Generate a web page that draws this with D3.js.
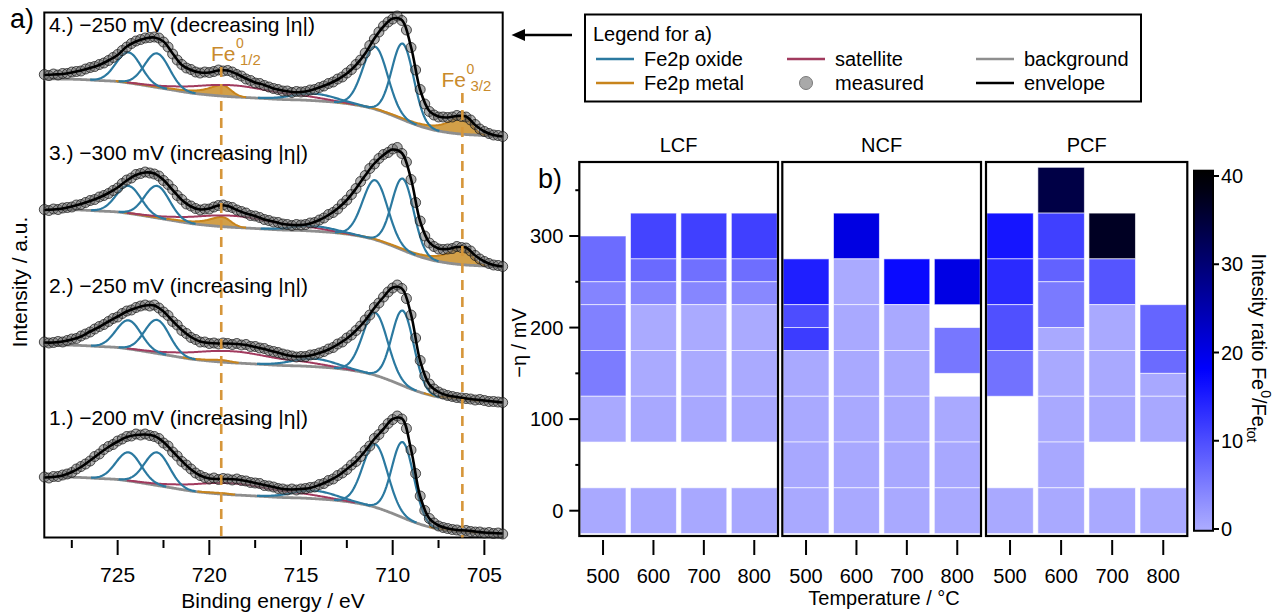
<!DOCTYPE html>
<html>
<head>
<meta charset="utf-8">
<script src="https://cdn.jsdelivr.net/npm/d3@7"></script>
<style>
  html, body { margin: 0; padding: 0; background: #fff; }
  svg { display: block; font-family: "Liberation Sans", Arial, Helvetica, sans-serif; }
</style>
</head>
<body>
<svg id="fig" width="1276" height="612"></svg>
<script>
// ================= Panel a: Fe 2p XPS spectra =================
const spectrumLabels = [
  "1.) \u2212200 mV (increasing |\u03b7|)",
  "2.) \u2212250 mV (increasing |\u03b7|)",
  "3.) \u2212300 mV (increasing |\u03b7|)",
  "4.) \u2212250 mV (decreasing |\u03b7|)"
];
// vertical stacking offset of every spectrum (a.u.)
const spectrumOffsets = [0, 26.4, 53.5, 79.6];

// energy grid of the recorded points and of the fitted envelope (eV)
const gridStart = 729;
const measuredStep = 0.25;
const envelopeStep = 0.5;

// Shirley-type background (a.u. above the stacking offset)
const bgEnergy = [729, 728, 727, 726, 725, 724, 723, 722, 721, 720, 719, 718, 717,
                  716, 715, 714, 713, 712, 711, 710, 709, 708, 707, 706, 705, 704];
const bgLevel  = [12.2, 12.2, 12.1, 11.9, 11.7, 11.2, 10.6, 10.0, 9.4, 9.0, 8.7, 8.5, 8.3,
                  8.1, 8.0, 7.8, 7.5, 7.0, 6.2, 4.9, 3.4, 2.2, 1.5, 1.1, 0.9, 0.7];

// Fe 2p oxide components: centre (eV), FWHM (eV), height per spectrum (a.u.)
const oxideCenters = [724.4, 722.85, 714.3, 710.95, 709.45];
const oxideFwhm    = [1.6, 1.6, 2.8, 1.6, 1.4];
const oxideHeights = [
  [5.7, 6.6, 1.6, 12.6, 15.1],
  [5.7, 6.7, 1.6, 12.5, 15.0],
  [5.5, 6.4, 1.0, 11.9, 14.3],
  [6.1, 6.8, 1.4, 12.5, 15.2]
];
// shake-up satellites
const satelliteCenters = [718.8, 714.8];
const satelliteFwhm    = [5.0, 3.0];
const satelliteHeights = [2.3, 0.5];
// metallic Fe0 2p1/2 and 2p3/2 components, heights per spectrum
const metalCenters = [719.3, 706.2];
const metalHeights = [[0.2, 0.3], [0.4, 0.4], [1.9, 3.6], [2.2, 3.7]];

// measured intensities, 729 eV -> 704 eV in 0.25 eV steps (one row per eV)
const measured1 = [
  12.2, 12.0, 12.3, 12.3,
  12.6, 12.8, 13.1, 13.8,
  14.3, 14.8, 15.4, 16.3,
  16.8, 17.7, 18.3, 18.7,
  19.4, 19.8, 20.3, 20.4,
  20.8, 20.6, 20.8, 20.5,
  20.3, 19.9, 19.0, 18.4,
  17.2, 16.4, 15.3, 14.6,
  13.8, 13.0, 12.5, 12.1,
  11.8, 12.0, 11.7, 11.9,
  11.8, 11.6, 11.8, 11.5,
  11.4, 11.1, 11.0, 10.9,
  10.5, 10.4, 10.2, 9.9,
  9.8, 9.6, 9.8, 9.6,
  9.8, 9.9, 10.1, 10.2,
  10.7, 10.9, 11.5, 11.8,
  12.5, 13.0, 13.7, 14.6,
  15.3, 16.3, 17.5, 18.4,
  19.9, 20.7, 21.9, 22.9,
  23.7, 24.4, 23.8, 21.9,
  17.6, 12.9, 8.4, 5.5,
  3.9, 3.0, 2.4, 2.1,
  1.9, 1.7, 1.6, 1.4,
  1.5, 1.3, 1.2, 1.2,
  1.0, 1.1, 0.9, 1.0,
  0.8
];
const measured2 = [
  12.8, 12.6, 12.7, 12.9,
  12.8, 13.1, 13.4, 13.5,
  14.0, 14.4, 14.8, 15.4,
  15.9, 16.3, 16.9, 17.5,
  17.8, 18.5, 19.0, 19.2,
  19.7, 20.0, 20.2, 20.0,
  20.2, 19.6, 18.8, 18.1,
  16.9, 16.2, 15.1, 14.5,
  13.7, 13.3, 12.8, 12.8,
  12.5, 12.6, 12.4, 12.6,
  12.5, 12.3, 12.5, 12.2,
  12.3, 11.9, 11.9, 11.6,
  11.5, 11.1, 10.9, 10.7,
  10.4, 10.2, 10.0, 9.8,
  9.9, 9.9, 10.2, 10.3,
  10.6, 10.9, 11.4, 11.7,
  12.4, 12.8, 13.6, 14.2,
  15.1, 16.0, 17.2, 18.2,
  19.7, 20.6, 21.8, 22.8,
  23.6, 24.2, 23.5, 21.5,
  18.2, 13.6, 9.1, 6.0,
  4.4, 3.4, 2.8, 2.4,
  2.1, 1.9, 1.7, 1.6,
  1.5, 1.4, 1.2, 1.3,
  1.1, 0.9, 0.9, 0.8,
  0.7
];
const measured3 = [
  12.2, 12.0, 12.3, 12.2,
  12.5, 12.6, 12.7, 13.1,
  13.2, 13.6, 14.0, 14.2,
  14.7, 15.0, 15.4, 16.0,
  16.5, 17.4, 18.1, 18.5,
  19.2, 19.4, 19.7, 19.5,
  19.3, 18.9, 18.0, 17.2,
  16.2, 15.0, 14.2, 13.3,
  12.9, 12.4, 12.1, 12.3,
  12.3, 12.7, 13.0, 13.1,
  12.8, 12.6, 12.1, 11.8,
  11.5, 11.0, 10.9, 10.6,
  10.2, 10.0, 9.7, 9.6,
  9.3, 9.2, 9.0, 9.2,
  9.1, 9.2, 9.5, 9.6,
  10.1, 10.5, 11.2, 11.6,
  12.3, 13.3, 14.1, 15.2,
  16.4, 17.8, 19.0, 20.4,
  21.3, 22.4, 23.2, 23.6,
  24.3, 24.6, 23.4, 21.7,
  18.2, 13.6, 9.9, 6.9,
  5.5, 4.8, 4.3, 4.2,
  4.3, 4.4, 4.8, 4.6,
  4.5, 3.9, 3.0, 2.3,
  1.8, 1.4, 1.1, 1.0,
  0.8
];
const measured4 = [
  13.1, 12.9, 13.2, 13.0,
  13.3, 13.3, 13.6, 13.7,
  13.8, 14.2, 14.5, 14.7,
  15.1, 15.4, 15.9, 16.5,
  17.1, 17.9, 18.6, 19.3,
  19.8, 20.1, 20.4, 20.5,
  20.6, 20.4, 19.6, 18.6,
  17.2, 16.0, 15.1, 14.4,
  14.1, 13.6, 13.4, 13.6,
  13.5, 13.7, 14.0, 13.8,
  13.9, 13.6, 13.1, 12.8,
  12.2, 11.9, 11.4, 11.3,
  10.9, 10.6, 10.3, 10.1,
  9.8, 9.8, 9.5, 9.7,
  9.6, 9.7, 10.0, 10.1,
  10.5, 10.8, 11.3, 11.6,
  12.2, 12.6, 13.4, 14.1,
  15.1, 16.0, 17.4, 18.9,
  20.2, 21.6, 22.8, 23.6,
  24.2, 24.8, 23.9, 22.0,
  18.5, 14.0, 10.1, 7.2,
  5.7, 5.0, 4.6, 4.6,
  4.5, 4.6, 4.9, 4.7,
  4.6, 4.0, 3.1, 2.2,
  1.7, 1.3, 1.0, 0.9,
  0.7
];

// fitted envelope, 729 eV -> 704 eV in 0.5 eV steps (one row per eV)
const envelope1 = [
  12.1, 12.2,  12.5, 13.2,  14.2, 15.5,  16.9, 18.2,  19.3, 20.2,
  20.6, 20.7,  20.4, 19.2,  17.3, 15.4,  13.7, 12.5,  11.9, 11.8,
  11.8, 11.7,  11.4, 11.0,  10.6, 10.2,  9.8, 9.7,    9.8, 10.0,
  10.6, 11.4,  12.4, 13.8,  15.3, 17.4,  19.8, 21.8,  23.8, 23.9,
  17.7, 8.3,   3.9, 2.5,    1.9, 1.6,    1.5, 1.3,    1.1, 1.0,
  0.9
];
const envelope2 = [
  12.7, 12.7,  12.9, 13.3,  13.9, 14.9,  15.8, 16.9,  17.9, 18.9,
  19.6, 20.1,  20.1, 18.9,  17.0, 15.2,  13.8, 12.9,  12.6, 12.5,
  12.5, 12.4,  12.2, 11.8,  11.4, 10.9,  10.4, 10.0,  9.9, 10.1,
  10.6, 11.3,  12.3, 13.5,  15.1, 17.1,  19.6, 21.8,  23.7, 23.5,
  18.3, 9.0,   4.3, 2.8,    2.1, 1.8,    1.5, 1.3,    1.1, 0.9,
  0.7
];
const envelope3 = [
  12.1, 12.2,  12.4, 12.8,  13.3, 13.9,  14.6, 15.5,  16.6, 18.0,
  19.1, 19.6,  19.4, 18.1,  16.1, 14.1,  12.8, 12.2,  12.4, 13.0,
  12.9, 12.1,  11.4, 10.9,  10.2, 9.8,   9.3, 9.1,    9.1, 9.4,
  10.1, 11.1,  12.4, 14.1,  16.4, 19.0,  21.4, 23.1,  24.2, 23.5,
  18.3, 9.8,   5.6, 4.4,    4.3, 4.7,    4.6, 3.0,    1.8, 1.1,
  0.8
];
const envelope4 = [
  13.0, 13.1,  13.2, 13.5,  13.9, 14.4,  15.0, 15.9,  17.0, 18.7,
  19.7, 20.3,  20.5, 19.7,  17.3, 15.0,  14.0, 13.5,  13.5, 13.9,
  13.9, 13.2,  12.3, 11.5,  11.0, 10.3,  9.9, 9.6,    9.6, 9.9,
  10.5, 11.2,  12.1, 13.3,  15.0, 17.3,  20.3, 22.7,  24.3, 24.0,
  18.6, 10.0,  5.8, 4.7,    4.5, 4.8,    4.7, 3.0,    1.7, 1.0,
  0.7
];
const measuredSets = [measured1, measured2, measured3, measured4];
const envelopeSets = [envelope1, envelope2, envelope3, envelope4];

// binding energies of the metallic Fe0 references (dashed guides)
const feLines = [719.35, 706.2];
const xTicksA = [725, 720, 715, 710, 705];
const xMinorA = [727.5, 722.5, 717.5, 712.5, 707.5];

// ================= Panel b: Fe0/Fe_tot heat map =================
const materials = ["LCF", "NCF", "PCF"];
const temperatures = [500, 600, 700, 800];
const etaTicks = [0, 100, 200, 300];
const etaMinor = [50, 150, 250, 350];
const ratioTicks = [0, 10, 20, 30, 40];
// each cell: [temperature / °C, lower −η / mV, upper −η / mV, Fe0/Fe_tot ratio]
const cellsLCF = [
  [500, 250, 300, 6.8], [500, 225, 250, 4.3], [500, 175, 225, 4.6], [500, 125, 175, 5.1],
  [500, 75, 125, 0.4], [500, -25, 25, 0.4],
  [600, 275, 325, 10.9], [600, 250, 275, 7.0], [600, 225, 250, 4.1], [600, 175, 225, 0.3],
  [600, 125, 175, 0.3], [600, 75, 125, 0.5], [600, -25, 25, 0.5],
  [700, 275, 325, 11.3], [700, 250, 275, 6.3], [700, 225, 250, 4.1], [700, 175, 225, 0.3],
  [700, 125, 175, 0.3], [700, 75, 125, 0.5], [700, -25, 25, 0.5],
  [800, 275, 325, 11.3], [800, 250, 275, 6.6], [800, 225, 250, 3.9], [800, 175, 225, 0.3],
  [800, 125, 175, 0.3], [800, 75, 125, 0.5], [800, -25, 25, 0.5]
];
const cellsNCF = [
  [500, 225, 275, 14.8], [500, 200, 225, 10.0], [500, 175, 200, 11.8], [500, 125, 175, 0.4],
  [500, 75, 125, 0.4], [500, 25, 75, 0.5], [500, -25, 25, 0.4],
  [600, 275, 325, 20.5], [600, 225, 275, 0.3], [600, 175, 225, 0.4], [600, 125, 175, 0.4],
  [600, 75, 125, 0.4], [600, 25, 75, 0.5], [600, -25, 25, 0.4],
  [700, 225, 275, 17.0], [700, 175, 225, 0.4], [700, 125, 175, 0.4], [700, 75, 125, 0.4],
  [700, 25, 75, 0.5], [700, -25, 25, 0.4],
  [800, 225, 275, 20.3], [800, 150, 200, 5.6], [800, 75, 125, 0.4], [800, 25, 75, 0.5],
  [800, -25, 25, 0.4]
];
const cellsPCF = [
  [500, 275, 325, 15.8], [500, 225, 275, 13.6], [500, 175, 225, 9.7], [500, 125, 175, 6.1],
  [500, -25, 25, 0.4],
  [600, 325, 375, 34.0], [600, 275, 325, 11.3], [600, 250, 275, 7.8], [600, 200, 250, 5.3],
  [600, 175, 200, 0.4], [600, 125, 175, 0.4], [600, 75, 125, 0.4], [600, 25, 75, 0.5],
  [600, -25, 25, 0.4],
  [700, 275, 325, 37.0], [700, 225, 275, 9.2], [700, 175, 225, 0.4], [700, 125, 175, 0.4],
  [700, 75, 125, 0.5], [700, -25, 25, 0.4],
  [800, 175, 225, 7.5], [800, 150, 175, 6.9], [800, 125, 150, 0.5], [800, 75, 125, 0.5],
  [800, -25, 25, 0.4]
];
const cellSets = [cellsLCF, cellsNCF, cellsPCF];

// ================= drawing =================
const svg = d3.select("#fig");
const C = {
  oxide: "#2b79a0", metal: "#c8841c", metalFill: "#d09a3e", sat: "#a13a5e",
  bg: "#8e8e8e", env: "#000", guide: "#d6963a"
};

// ---------- panel a ----------
const xA = d3.scaleLinear().domain([729, 704]).range([44.3, 502.7]);
const yA = d3.scaleLinear().domain([0, 105.2]).range([538, 12]);

svg.append("rect")
  .attr("x", xA(729)).attr("y", yA(105.1))
  .attr("width", xA(704) - xA(729)).attr("height", yA(0.1) - yA(105.1))
  .attr("fill", "none").attr("stroke", "#000").attr("stroke-width", 2);

function bgAt(E) {
  const n = bgEnergy.length;
  const step = bgEnergy[0] - bgEnergy[1];
  let t = (bgEnergy[0] - E) / step;
  let i = Math.max(0, Math.min(n - 2, Math.floor(t)));
  const u = t - i;
  const p0 = bgLevel[Math.max(i - 1, 0)], p1 = bgLevel[i], p2 = bgLevel[i + 1], p3 = bgLevel[Math.min(i + 2, n - 1)];
  return 0.5 * (2 * p1 + (-p0 + p2) * u + (2 * p0 - 5 * p1 + 4 * p2 - p3) * u * u +
                (-p0 + 3 * p1 - 3 * p2 + p3) * u * u * u);
}
const gauss = (E, c, h, w) => h * Math.exp(-4 * Math.LN2 * ((E - c) / w) ** 2);
// asymmetric metal line: Lorentzian tail towards higher binding energy
const metalShape = (E, c, h) => E >= c ? h / (1 + ((E - c) / 0.9) ** 2) : gauss(E, c, h, 1.1);

const fineE = d3.range(0, 501).map(i => 729 - i * 0.05);

spectrumOffsets.forEach((off, s) => {
  const g = svg.append("g");
  const base = fineE.map(E => ({ E, b: bgAt(E) }));
  const lineOn = d3.line().defined(d => d.on)
    .x(d => xA(d.E)).y(d => yA(off + d.v));

  // metallic Fe0 area + line
  const metal = base.map(d => {
    const m = metalCenters.reduce((a, c, k) => a + metalShape(d.E, c, metalHeights[s][k]), 0);
    return { E: d.E, b: d.b, m, v: d.b + m, on: m > 0.06 };
  });
  g.append("path").datum(metal)
    .attr("d", d3.area().defined(d => d.on).x(d => xA(d.E))
      .y0(d => yA(off + d.b)).y1(d => yA(off + d.b + d.m)))
    .attr("fill", C.metalFill).attr("fill-opacity", 0.95);

  // background
  g.append("path").datum(base.map(d => ({ E: d.E, v: d.b, on: true })))
    .attr("d", lineOn).attr("fill", "none").attr("stroke", C.bg).attr("stroke-width", 2.8);

  g.append("path").datum(metal).attr("d", lineOn)
    .attr("fill", "none").attr("stroke", C.metal).attr("stroke-width", 2);

  // satellite (sum of both shake-up lines)
  const sat = base.map(d => {
    const v = satelliteCenters.reduce((a, c, k) => a + gauss(d.E, c, satelliteHeights[k], satelliteFwhm[k]), 0);
    return { E: d.E, v: d.b + v, on: v > 0.06 };
  });
  g.append("path").datum(sat).attr("d", lineOn)
    .attr("fill", "none").attr("stroke", C.sat).attr("stroke-width", 2);

  // oxide components
  oxideCenters.forEach((c, k) => {
    const comp = base.map(d => {
      const v = gauss(d.E, c, oxideHeights[s][k], oxideFwhm[k]);
      return { E: d.E, v: d.b + v, on: v > 0.05 };
    });
    g.append("path").datum(comp).attr("d", lineOn)
      .attr("fill", "none").attr("stroke", C.oxide).attr("stroke-width", 2.2);
  });

  // measured points
  g.append("g").selectAll("circle").data(measuredSets[s]).join("circle")
    .attr("cx", (v, i) => xA(gridStart - i * measuredStep))
    .attr("cy", v => yA(off + v))
    .attr("r", 5)
    .attr("fill", "#666").attr("fill-opacity", 0.5)
    .attr("stroke", "#1a1a1a").attr("stroke-opacity", 0.75).attr("stroke-width", 1);

  // envelope
  g.append("path").datum(envelopeSets[s])
    .attr("d", d3.line().curve(d3.curveCatmullRom.alpha(0.5))
      .x((v, i) => xA(gridStart - i * envelopeStep)).y(v => yA(off + v)))
    .attr("fill", "none").attr("stroke", C.env).attr("stroke-width", 2.6);
});

// Fe0 guides
const guideTop = [67, 93];
feLines.forEach((E, k) => {
  svg.append("line")
    .attr("x1", xA(E)).attr("x2", xA(E)).attr("y1", guideTop[k]).attr("y2", yA(0.1))
    .attr("stroke", C.guide).attr("stroke-width", 2.6).attr("stroke-dasharray", "10,7");
});

// Fe0 labels
function feLabel(x, y, sub) {
  const t = svg.append("g").attr("fill", "#c98a2c");
  t.append("text").attr("x", x).attr("y", y).attr("font-size", 21).text("Fe");
  t.append("text").attr("x", x + 25).attr("y", y - 13).attr("font-size", 14).text("0");
  t.append("text").attr("x", x + 29).attr("y", y + 4).attr("font-size", 15).text(sub);
}
feLabel(211, 61, "1/2");
feLabel(441.5, 87, "3/2");

// spectrum labels
const labelBase = [425, 293, 160, 31.7];
spectrumLabels.forEach((t, s) => {
  svg.append("text").attr("x", 49).attr("y", labelBase[s]).attr("font-size", 21).text(t);
});

// x axis (panel a)
const axA = svg.append("g").attr("transform", `translate(0,540)`);
axA.selectAll("line.maj").data(xTicksA).join("line")
  .attr("x1", d => xA(d)).attr("x2", d => xA(d)).attr("y1", 0).attr("y2", 15)
  .attr("stroke", "#000").attr("stroke-width", 2);
axA.selectAll("line.min").data(xMinorA).join("line")
  .attr("x1", d => xA(d)).attr("x2", d => xA(d)).attr("y1", 0).attr("y2", 8)
  .attr("stroke", "#000").attr("stroke-width", 2);
axA.selectAll("text").data(xTicksA).join("text")
  .attr("x", d => xA(d)).attr("y", 42).attr("text-anchor", "middle").attr("font-size", 21)
  .text(d => d);

svg.append("text").attr("x", 273).attr("y", 607.5).attr("text-anchor", "middle")
  .attr("font-size", 21).text("Binding energy / eV");
svg.append("text").attr("transform", "translate(27,282) rotate(-90)")
  .attr("text-anchor", "middle").attr("font-size", 21).text("Intensity / a.u.");
svg.append("text").attr("x", 10).attr("y", 28).attr("font-size", 27).text("a)");

// arrow pointing at spectrum 4
svg.append("line").attr("x1", 572).attr("x2", 522).attr("y1", 35).attr("y2", 35)
  .attr("stroke", "#000").attr("stroke-width", 2.4);
svg.append("path").attr("d", "M511.5,35 L525,29 L525,41 Z").attr("fill", "#000");

// legend for panel a
const lg = svg.append("g");
lg.append("rect").attr("x", 585).attr("y", 14.5).attr("width", 556).attr("height", 87)
  .attr("fill", "#fff").attr("stroke", "#000").attr("stroke-width", 2);
lg.append("text").attr("x", 593).attr("y", 41).attr("font-size", 20).text("Legend for a)");
const legendItems = [
  { label: "Fe2p oxide", color: C.oxide, col: 0, row: 0 },
  { label: "satellite", color: C.sat, col: 1, row: 0 },
  { label: "background", color: C.bg, col: 2, row: 0 },
  { label: "Fe2p metal", color: C.metal, col: 0, row: 1 },
  { label: "measured", color: null, col: 1, row: 1 },
  { label: "envelope", color: "#000", col: 2, row: 1 }
];
const legCols = [596, 787, 976];
const legRows = [59, 83];
legendItems.forEach(it => {
  const x = legCols[it.col], y = legRows[it.row];
  if (it.color) {
    lg.append("line").attr("x1", x).attr("x2", x + 38).attr("y1", y).attr("y2", y)
      .attr("stroke", it.color).attr("stroke-width", 2.6);
  } else {
    lg.append("circle").attr("cx", x + 19).attr("cy", y).attr("r", 6.5)
      .attr("fill", "#a9a9a9").attr("stroke", "#7a7a7a").attr("stroke-width", 1);
  }
  lg.append("text").attr("x", x + 48).attr("y", y + 7).attr("font-size", 20).text(it.label);
});

// ---------- panel b ----------
const yB = d3.scaleLinear().domain([0, 300]).range([510.7, 236]);
const frameTop = 162, frameBottom = 536;
const panelX = [[579.3, 778], [782.3, 981], [986, 1187.3]];
const color = d3.scaleLinear().domain([0, 18, 40]).range(["#adadff", "#0000ff", "#000000"]).clamp(true);

materials.forEach((m, p) => {
  const [x0, x1] = panelX[p];
  const xb = d3.scaleBand().domain(temperatures).range([x0 + 0.8, x1 - 0.8])
    .paddingInner(0.09).paddingOuter(0);
  const g = svg.append("g");
  g.selectAll("rect.cell").data(cellSets[p]).join("rect")
    .attr("x", d => xb(d[0])).attr("width", xb.bandwidth())
    .attr("y", d => yB(d[2])).attr("height", d => yB(d[1]) - yB(d[2]))
    .attr("fill", d => color(d[3]))
    .attr("stroke", "#fff").attr("stroke-width", 0.9).attr("stroke-opacity", 0.65);
  g.append("rect").attr("x", x0).attr("y", frameTop).attr("width", x1 - x0)
    .attr("height", frameBottom - frameTop)
    .attr("fill", "none").attr("stroke", "#000").attr("stroke-width", 2.2);
  g.append("text").attr("x", (x0 + x1) / 2).attr("y", 151.5).attr("text-anchor", "middle")
    .attr("font-size", 20).text(m);
  // temperature ticks
  const ax = g.append("g").attr("transform", "translate(0,540)");
  ax.selectAll("line").data(temperatures).join("line")
    .attr("x1", d => xb(d) + xb.bandwidth() / 2).attr("x2", d => xb(d) + xb.bandwidth() / 2)
    .attr("y1", 0).attr("y2", 15).attr("stroke", "#000").attr("stroke-width", 2);
  ax.selectAll("text").data(temperatures).join("text")
    .attr("x", d => xb(d) + xb.bandwidth() / 2).attr("y", 43).attr("text-anchor", "middle")
    .attr("font-size", 20).text(d => d);
});

// eta axis
const axB = svg.append("g").attr("transform", `translate(${panelX[0][0]},0)`);
axB.selectAll("line.maj").data(etaTicks).join("line")
  .attr("x1", -10).attr("x2", 0).attr("y1", d => yB(d)).attr("y2", d => yB(d))
  .attr("stroke", "#000").attr("stroke-width", 2);
axB.selectAll("line.min").data(etaMinor).join("line")
  .attr("x1", -4).attr("x2", 0).attr("y1", d => yB(d)).attr("y2", d => yB(d))
  .attr("stroke", "#000").attr("stroke-width", 2);
axB.selectAll("text").data(etaTicks).join("text")
  .attr("x", -16).attr("y", d => yB(d) + 7).attr("text-anchor", "end").attr("font-size", 20)
  .text(d => d);

svg.append("text").attr("transform", "translate(526,343) rotate(-90)")
  .attr("text-anchor", "middle").attr("font-size", 20).text("\u2212\u03b7 / mV");
svg.append("text").attr("x", 884).attr("y", 605).attr("text-anchor", "middle")
  .attr("font-size", 20).text("Temperature / \u00b0C");
svg.append("text").attr("x", 538).attr("y", 188).attr("font-size", 27).text("b)");

// colour bar
const yC = d3.scaleLinear().domain([0, 40]).range([529, 176]);
const defs = svg.append("defs");
const grad = defs.append("linearGradient").attr("id", "cbar")
  .attr("x1", 0).attr("y1", 1).attr("x2", 0).attr("y2", 0);
const cbLo = -0.2, cbHi = 40.6;
d3.range(0, 21).forEach(i => {
  const v = cbLo + (cbHi - cbLo) * i / 20;
  grad.append("stop").attr("offset", i / 20).attr("stop-color", color(v));
});
svg.append("rect").attr("x", 1194).attr("y", yC(cbHi)).attr("width", 19)
  .attr("height", yC(cbLo) - yC(cbHi))
  .attr("fill", "url(#cbar)").attr("stroke", "#000").attr("stroke-width", 2);
const axC = svg.append("g").attr("transform", "translate(1213,0)");
axC.selectAll("line").data(ratioTicks).join("line")
  .attr("x1", 0).attr("x2", 6).attr("y1", d => yC(d)).attr("y2", d => yC(d))
  .attr("stroke", "#000").attr("stroke-width", 2);
axC.selectAll("text").data(ratioTicks).join("text")
  .attr("x", 8).attr("y", d => yC(d) + 7).attr("font-size", 20).text(d => d);

const cl = svg.append("text").attr("transform", "translate(1252,348) rotate(90)")
  .attr("text-anchor", "middle").attr("font-size", 20);
cl.append("tspan").text("Intesity ratio Fe");
cl.append("tspan").attr("font-size", 14).attr("dy", -9).text("0");
cl.append("tspan").attr("dy", 9).text("/Fe");
cl.append("tspan").attr("font-size", 14).attr("dy", 5).text("tot");
</script>
</body>
</html>
